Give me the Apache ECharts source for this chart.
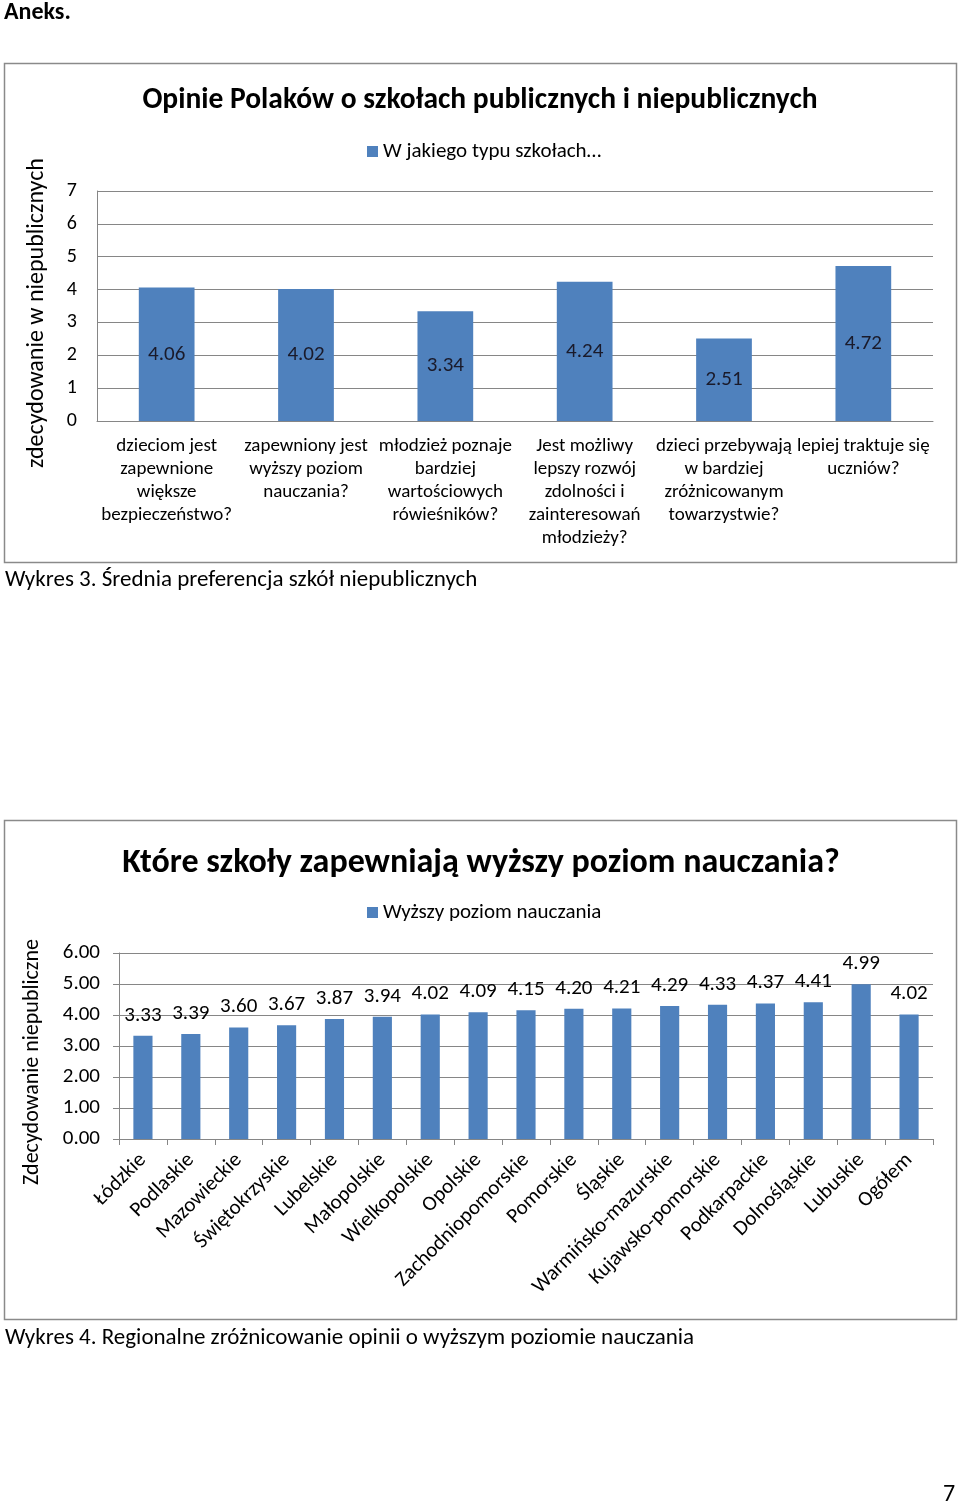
<!DOCTYPE html>
<html><head><meta charset="utf-8">
<script src="https://cdn.jsdelivr.net/npm/echarts@6/dist/echarts.min.js"></script>
<style>html,body{margin:0;padding:0;background:#fff}#c{width:960px;height:1505px}</style>
</head><body><div id="c"></div>
<script>
const FONT = 'Carlito, Lato, "Open Sans", sans-serif';
const BLUE = '#4F81BD';
const GRIDC = '#868686';

const cat1 = [
  'dzieciom jest\nzapewnione\nwiększe\nbezpieczeństwo?',
  'zapewniony jest\nwyższy poziom\nnauczania?',
  'młodzież poznaje\nbardziej\nwartościowych\nrówieśników?',
  'Jest możliwy\nlepszy rozwój\nzdolności i\nzainteresowań\nmłodzieży?',
  'dzieci przebywają\nw bardziej\nzróżnicowanym\ntowarzystwie?',
  'lepiej traktuje się\nuczniów?'
];
const val1 = [4.06, 4.02, 3.34, 4.24, 2.51, 4.72];
const ticks1 = [0, 1, 2, 3, 4, 5, 6, 7];

const cat2 = ['Łódzkie','Podlaskie','Mazowieckie','Świętokrzyskie','Lubelskie','Małopolskie','Wielkopolskie','Opolskie','Zachodniopomorskie','Pomorskie','Śląskie','Warmińsko-mazurskie','Kujawsko-pomorskie','Podkarpackie','Dolnośląskie','Lubuskie','Ogółem'];
const val2 = [3.33, 3.39, 3.60, 3.67, 3.87, 3.94, 4.02, 4.09, 4.15, 4.20, 4.21, 4.29, 4.33, 4.37, 4.41, 4.99, 4.02];
const ticks2 = [0, 1, 2, 3, 4, 5, 6];

const chart = echarts.init(document.getElementById('c'), null, {renderer: 'canvas'});
chart.setOption({
  backgroundColor: '#fff',
  textStyle: {fontFamily: FONT},
  animation: false,
  title: [
    {text: 'Opinie Polaków o szkołach publicznych i niepublicznych', left: 475, top: 81, textAlign: 'center',
     textStyle: {fontFamily: FONT, fontSize: 29.5, fontWeight: 'bold', color: '#000'}},
    {text: 'Które szkoły zapewniają wyższy poziom nauczania?', left: 476, top: 841, textAlign: 'center',
     textStyle: {fontFamily: FONT, fontSize: 34, fontWeight: 'bold', color: '#000'}}
  ],
  legend: [
    {seriesIndex: 0, data: ['W jakiego typu szkołach…'], left: 362, top: 136, icon: 'rect', itemWidth: 11, itemHeight: 11,
     textStyle: {fontFamily: FONT, fontSize: 21, color: '#000'}},
    {data: ['Wyższy poziom nauczania'], left: 362, top: 897, icon: 'rect', itemWidth: 11, itemHeight: 11,
     textStyle: {fontFamily: FONT, fontSize: 21, color: '#000'}}
  ],
  grid: [
    {left: 97, right: 27, top: 191, bottom: 1505 - 421},
    {left: 119, right: 27, top: 953, bottom: 1505 - 1139}
  ],
  xAxis: [
    {type: 'category', gridIndex: 0, data: cat1,
     axisLine: {lineStyle: {color: GRIDC}}, axisTick: {show: false},
     axisLabel: {interval: 0, margin: 14, fontSize: 19, lineHeight: 23, color: '#000', fontFamily: FONT}},
    {type: 'category', gridIndex: 1, data: cat2,
     axisLine: {lineStyle: {color: GRIDC}}, axisTick: {show: true, length: 6, lineStyle: {color: GRIDC}},
     axisLabel: {interval: 0, rotate: 45, margin: 18, fontSize: 21, color: '#000', fontFamily: FONT}}
  ],
  yAxis: [
    {type: 'value', gridIndex: 0, min: ticks1[0], max: ticks1[ticks1.length - 1], interval: 1,
     name: 'zdecydowanie w niepublicznych', nameLocation: 'middle', nameRotate: 90, nameGap: 48,
     nameTextStyle: {fontFamily: FONT, fontSize: 24, color: '#000', padding: [0, 14, 0, 0]},
     axisLine: {show: true, lineStyle: {color: GRIDC}}, axisTick: {show: false},
     splitLine: {lineStyle: {color: GRIDC, width: 1}},
     axisLabel: {margin: 20, fontSize: 20, color: '#000', fontFamily: FONT}},
    {type: 'value', gridIndex: 1, min: ticks2[0], max: ticks2[ticks2.length - 1], interval: 1,
     name: 'Zdecydowanie niepubliczne', nameLocation: 'middle', nameRotate: 90, nameGap: 76,
     nameTextStyle: {fontFamily: FONT, fontSize: 22, color: '#000', padding: [0, 32, 0, 0]},
     axisLine: {show: true, lineStyle: {color: GRIDC}}, axisTick: {show: true, length: 6, lineStyle: {color: GRIDC}},
     splitLine: {lineStyle: {color: GRIDC, width: 1}},
     axisLabel: {margin: 19, fontSize: 21, color: '#000', fontFamily: FONT, formatter: v => v.toFixed(2)}}
  ],
  series: [
    {name: 'W jakiego typu szkołach…', type: 'bar', xAxisIndex: 0, yAxisIndex: 0, data: val1,
     barCategoryGap: '60%', itemStyle: {color: BLUE},
     label: {show: true, position: 'inside', fontSize: 21, color: '#1a1a2a', fontFamily: FONT,
             formatter: p => p.value.toFixed(2)}},
    {name: 'Wyższy poziom nauczania', type: 'bar', xAxisIndex: 1, yAxisIndex: 1, data: val2,
     barCategoryGap: '60%', itemStyle: {color: BLUE},
     label: {show: true, position: 'top', distance: 10, fontSize: 21, color: '#000', fontFamily: FONT,
             formatter: p => p.value.toFixed(2)}}
  ],
  graphic: [
    {type: 'text', left: 4, top: 1, style: {text: 'Aneks.', font: 'bold 24px ' + FONT, fill: '#000'}},
    {type: 'rect', shape: {x: 4.5, y: 63.5, width: 952, height: 499}, style: {fill: 'none', stroke: '#8a8a8a', lineWidth: 1.5}, z: -1},
    {type: 'rect', shape: {x: 4.5, y: 820.5, width: 952, height: 499}, style: {fill: 'none', stroke: '#8a8a8a', lineWidth: 1.5}, z: -1},
    {type: 'text', left: 5, top: 569, style: {text: 'Wykres 3. Średnia preferencja szkół niepublicznych', font: '23px ' + FONT, fill: '#000'}},
    {type: 'text', left: 5, top: 1327, style: {text: 'Wykres 4. Regionalne zróżnicowanie opinii o wyższym poziomie nauczania', font: '23px ' + FONT, fill: '#000'}},
    {type: 'text', left: 943, top: 1483, style: {text: '7', font: '24px ' + FONT, fill: '#000'}}
  ]
});
</script>
</body></html>
